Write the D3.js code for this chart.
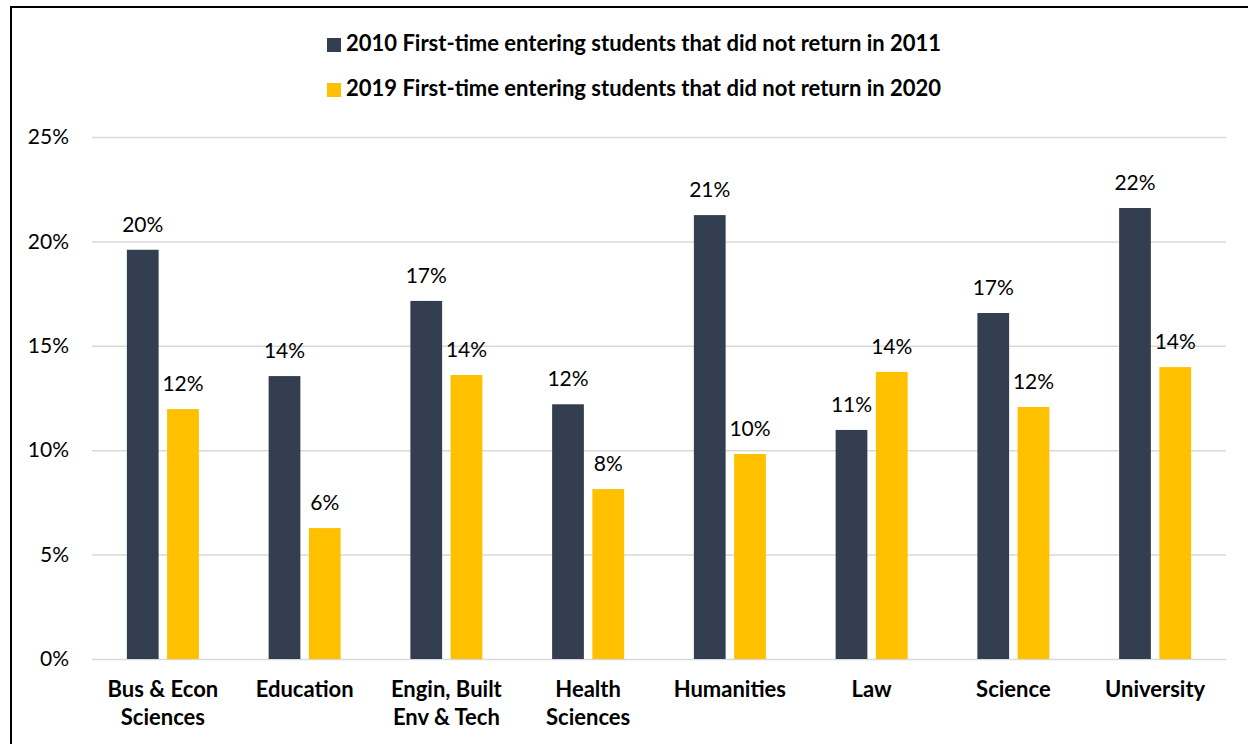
<!DOCTYPE html>
<html>
<head>
<meta charset="utf-8">
<script src="https://cdn.jsdelivr.net/npm/d3@7"></script>
<style>
  html, body { margin: 0; padding: 0; background: #fff; }
  svg { display: block; font-family: Lato, "Open Sans", sans-serif; }
</style>
</head>
<body>
<svg id="chart" width="1248" height="744"></svg>
<script>
// Faculty labels (each entry split into display lines)
const categories = [
  ["Bus & Econ", "Sciences"],
  ["Education"],
  ["Engin, Built", "Env & Tech"],
  ["Health", "Sciences"],
  ["Humanities"],
  ["Law"],
  ["Science"],
  ["University"]
];
const seriesNames = [
  "2010 First-time entering students that did not return in 2011",
  "2019 First-time entering students that did not return in 2020"
];
const seriesColors = ["#333F50", "#FFC000"];
// Share of first-time entering students not returning the following year
const dropout2010 = [0.196, 0.1355, 0.1715, 0.122, 0.2126, 0.1097, 0.1657, 0.216];
const dropout2019 = [0.1197, 0.0627, 0.136, 0.0814, 0.0982, 0.1375, 0.1207, 0.1398];
const yTicks = [0, 0.05, 0.10, 0.15, 0.20, 0.25];

const svg = d3.select("#chart");
const keys = categories.map(c => c.join(" "));
const series = [dropout2010, dropout2019];

const x0 = d3.scaleBand().domain(keys).range([92, 1226]).padding(0);
const bw = x0.bandwidth();
const x1 = d3.scaleBand().domain([0, 1]).range([bw / 2 - 36, bw / 2 + 36]).paddingInner(0.211).paddingOuter(0);
const y = d3.scaleLinear().domain([0, 0.25]).range([659, 137]);
const pct = d3.format(".0%");

// Frame (top and left edges)
svg.append("path")
  .attr("d", "M11,744V7H1248")
  .attr("fill", "none")
  .attr("stroke", "#000")
  .attr("stroke-width", 2);

// Horizontal gridlines and y-axis labels
const yAxis = d3.axisLeft(y).tickValues(yTicks).tickFormat(pct)
  .tickSize(-(1226 - 92)).tickPadding(23);
const gy = svg.append("g").attr("transform", "translate(92,0)").call(yAxis);
gy.select(".domain").remove();
gy.selectAll(".tick line").attr("stroke", "#D9D9D9").attr("stroke-width", 1.5);
gy.selectAll(".tick text")
  .attr("fill", "#000")
  .style("font-size", "21px")
  .style("font-family", "Lato, sans-serif");

// Bars
const groups = svg.append("g").selectAll("g")
  .data(keys)
  .join("g")
  .attr("transform", d => `translate(${x0(d)},0)`);

groups.selectAll("rect")
  .data((d, i) => series.map((s, k) => ({ k, v: s[i] })))
  .join("rect")
  .attr("x", d => x1(d.k))
  .attr("width", x1.bandwidth())
  .attr("y", d => y(d.v))
  .attr("height", d => y(0) - y(d.v))
  .attr("fill", d => seriesColors[d.k]);

// Value labels above each bar
groups.selectAll("text.val")
  .data((d, i) => series.map((s, k) => ({ k, v: s[i] })))
  .join("text")
  .attr("class", "val")
  .attr("x", d => x1(d.k) + x1.bandwidth() / 2)
  .attr("y", d => y(d.v) - 18)
  .attr("text-anchor", "middle")
  .attr("fill", "#000")
  .style("font-size", "21px")
  .text(d => pct(d.v));

// Category labels under the axis
const xAxis = svg.append("g");
categories.forEach((lines, i) => {
  const t = xAxis.append("text")
    .attr("x", x0(keys[i]) + bw / 2)
    .attr("y", y(0) + 38)
    .attr("text-anchor", "middle")
    .attr("fill", "#000")
    .style("font-size", "22px")
    .style("font-weight", "bold");
  lines.forEach((ln, j) => {
    t.append("tspan")
      .attr("x", x0(keys[i]) + bw / 2)
      .attr("dy", j === 0 ? 0 : 28)
      .text(ln);
  });
});

// Legend
const legend = svg.append("g");
seriesNames.forEach((name, k) => {
  const yy = 51 + k * 45;
  legend.append("rect")
    .attr("x", 327).attr("y", yy - 13)
    .attr("width", 14).attr("height", 14)
    .attr("fill", seriesColors[k]);
  legend.append("text")
    .attr("x", 346).attr("y", yy)
    .attr("fill", "#000")
    .style("font-size", "22px")
    .style("font-weight", "bold")
    .text(name);
});
</script>
</body>
</html>
